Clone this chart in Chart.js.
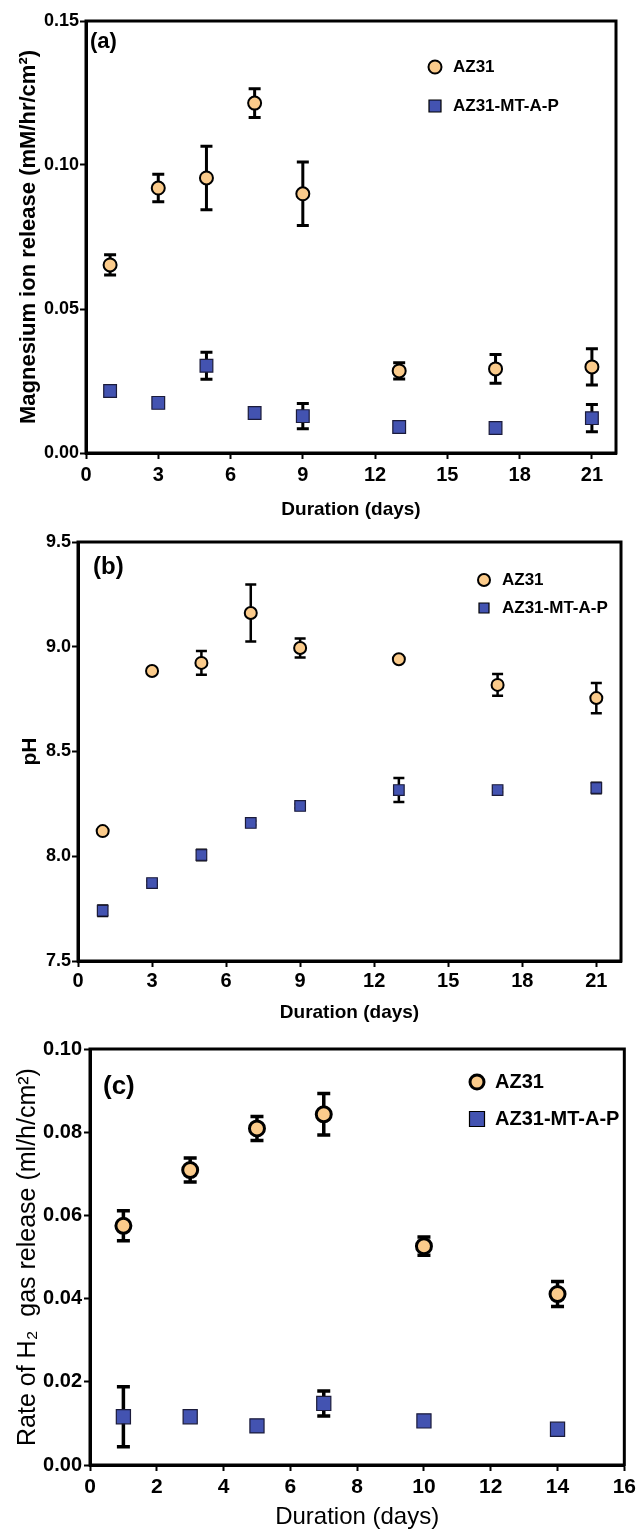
<!DOCTYPE html>
<html>
<head>
<meta charset="utf-8">
<script src="https://cdn.jsdelivr.net/npm/chart.js"></script>
<style>
html, body { margin: 0; padding: 0; background: #fff; }
body { width: 640px; height: 1537px; position: relative; overflow: hidden; }
.panel { position: absolute; left: 0; width: 640px; }
</style>
</head>
<body>
<div class="panel" style="top:0;height:525px"><canvas id="chartA"></canvas></div>
<div class="panel" style="top:525px;height:505px"><canvas id="chartB"></canvas></div>
<div class="panel" style="top:1030px;height:507px"><canvas id="chartC"></canvas></div>
<script>
// data
const daysAB = [1, 3, 5, 7, 9, 13, 17, 21];
const mgAZ31 = [0.0653, 0.0920, 0.0955, 0.1215, 0.0900, 0.0285, 0.0292, 0.0299];
const mgAZ31Err = [0.0035, 0.0048, 0.0110, 0.0050, 0.0110, 0.0028, 0.0050, 0.0063];
const mgCoated = [0.0215, 0.0174, 0.0303, 0.0139, 0.0128, 0.0090, 0.0087, 0.0121];
const mgCoatedErr = [0.0010, 0.0010, 0.0047, 0.0010, 0.0044, 0.0010, 0.0010, 0.0047];

const phAZ31 = [8.12, 8.884, 8.923, 9.161, 8.994, 8.94, 8.818, 8.755];
const phAZ31Err = [0.01, 0.01, 0.057, 0.136, 0.045, 0.01, 0.052, 0.072];
const phCoated = [7.74, 7.872, 8.006, 8.159, 8.24, 8.316, 8.316, 8.326];
const phCoatedErr = [0.025, 0.01, 0.025, 0.01, 0.01, 0.057, 0.01, 0.025];

const daysC = [1, 3, 5, 7, 10, 14];
const h2AZ31 = [0.0575, 0.0709, 0.0809, 0.0843, 0.0526, 0.0411];
const h2AZ31Err = [0.0036, 0.0029, 0.0029, 0.0050, 0.0022, 0.0030];
const h2Coated = [0.0116, 0.0116, 0.0094, 0.0148, 0.0106, 0.0086];
const h2CoatedErr = [0.0072, 0.0008, 0.0008, 0.0030, 0.0008, 0.0008];

const xTicksAB = [0, 3, 6, 9, 12, 15, 18, 21];
const yTicksMg = [0, 0.05, 0.10, 0.15];
const yTicksPh = [7.5, 8.0, 8.5, 9.0, 9.5];
const xTicksC = [0, 2, 4, 6, 8, 10, 12, 14, 16];
const yTicksH2 = [0, 0.02, 0.04, 0.06, 0.08, 0.10];

const seriesNames = ['AZ31', 'AZ31-MT-A-P'];

const peach = '#FBCB8B';
const blue = '#4353B1';
const sans = "'Liberation Sans', Arial, sans-serif";

function drawMarker(ctx, style, x, y, r, bw, fill) {
    ctx.save();
    ctx.fillStyle = fill;
    ctx.strokeStyle = '#000';
    ctx.lineWidth = bw;
    ctx.beginPath();
    if (style === 'circle') {
        ctx.arc(x, y, r, 0, Math.PI * 2);
    } else {
        ctx.rect(x - r, y - r, 2 * r, 2 * r);
    }
    ctx.fill();
    ctx.stroke();
    ctx.restore();
}

function makePanel(id, p) {
    const decor = {
        id: 'decor' + id,
        beforeDatasetsDraw(chart) {
            // error bars
            const ctx = chart.ctx;
            const xs = chart.scales.x, ys = chart.scales.y;
            ctx.save();
            ctx.strokeStyle = '#000';
            ctx.lineWidth = p.errW;
            chart.data.datasets.forEach(ds => {
                ds.data.forEach((pt, i) => {
                    const e = ds.errors[i];
                    const x = xs.getPixelForValue(pt.x);
                    const y1 = ys.getPixelForValue(pt.y + e);
                    const y2 = ys.getPixelForValue(pt.y - e);
                    ctx.beginPath();
                    ctx.moveTo(x, y1); ctx.lineTo(x, y2);
                    ctx.moveTo(x - p.cap, y1); ctx.lineTo(x + p.cap, y1);
                    ctx.moveTo(x - p.cap, y2); ctx.lineTo(x + p.cap, y2);
                    ctx.stroke();
                });
            });
            ctx.restore();
        },
        afterDraw(chart) {
            const ctx = chart.ctx;
            const a = chart.chartArea;
            ctx.save();
            ctx.strokeStyle = '#000';
            ctx.lineWidth = 3;
            ctx.strokeRect(a.left, a.top, a.right - a.left, a.bottom - a.top);
            // panel tag
            ctx.fillStyle = '#000';
            ctx.font = p.tagFont;
            ctx.textAlign = 'left';
            ctx.textBaseline = 'middle';
            ctx.fillText(p.tag, p.tagX, p.tagY);
            // legend
            drawMarker(ctx, 'circle', p.legX, p.legY[0], p.legCircle, p.circleBW, peach);
            drawMarker(ctx, 'rect', p.legX, p.legY[1], p.legSquare, 1.2, blue);
            ctx.fillStyle = '#000';
            ctx.font = p.legFont;
            ctx.fillText(seriesNames[0], p.legTextX, p.legY[0]);
            ctx.fillText(seriesNames[1], p.legTextX, p.legY[1]);
            ctx.restore();
        }
    };

    new Chart(document.getElementById(id), {
        type: 'scatter',
        data: {
            datasets: [
                {
                    label: seriesNames[1],
                    data: p.days.map((d, i) => ({ x: d, y: p.coated[i] })),
                    errors: p.coatedErr,
                    pointStyle: 'rect',
                    pointRadius: p.rectR,
                    pointBorderWidth: 1.2,
                    backgroundColor: blue,
                    borderColor: '#1b1b3a'
                },
                {
                    label: seriesNames[0],
                    data: p.days.map((d, i) => ({ x: d, y: p.az[i] })),
                    errors: p.azErr,
                    pointStyle: 'circle',
                    pointRadius: p.circleR,
                    pointBorderWidth: p.circleBW,
                    backgroundColor: peach,
                    borderColor: '#000'
                }
            ]
        },
        options: {
            responsive: true,
            maintainAspectRatio: false,
            animation: false,
            events: [],
            layout: { padding: { left: 0, top: p.top, right: p.right, bottom: 0 } },
            plugins: { legend: { display: false }, tooltip: { enabled: false } },
            scales: {
                x: {
                    type: 'linear',
                    min: p.xMin, max: p.xMax,
                    afterBuildTicks: s => { s.ticks = p.xTicks.map(v => ({ value: v })); },
                    afterFit: s => { s.height = p.xAxisH; },
                    ticks: { color: '#000', font: { family: sans, weight: 'bold', size: p.xTickSize }, padding: p.xTickPad, maxRotation: 0, callback: v => String(v) },
                    grid: { drawOnChartArea: false, drawTicks: true, tickLength: 6, tickWidth: 2, tickColor: '#000' },
                    border: { display: true, color: '#000', width: 3 },
                    title: { display: true, text: 'Duration (days)', color: '#000', font: p.xTitleFont, padding: { top: 0, bottom: p.xTitlePad } }
                },
                y: {
                    type: 'linear',
                    min: p.yMin, max: p.yMax,
                    afterBuildTicks: s => { s.ticks = p.yTicks.map(v => ({ value: v })); },
                    afterFit: s => { s.width = p.yAxisW; },
                    ticks: { color: '#000', font: { family: sans, weight: 'bold', size: p.yTickSize }, padding: p.yTickPad, callback: v => v.toFixed(p.dec) },
                    grid: { drawOnChartArea: false, drawTicks: true, tickLength: 6, tickWidth: 2, tickColor: '#000' },
                    border: { display: true, color: '#000', width: 3 },
                    title: { display: true, text: p.yTitle, color: '#000', font: p.yTitleFont, padding: { top: p.yTitlePad, bottom: 0 } }
                }
            }
        },
        plugins: [decor]
    });
}

makePanel('chartA', {
    days: daysAB, az: mgAZ31, azErr: mgAZ31Err, coated: mgCoated, coatedErr: mgCoatedErr,
    xMin: 0, xMax: 22, xTicks: xTicksAB, yMin: 0, yMax: 0.15, yTicks: yTicksMg, dec: 2,
    top: 21, right: 24, xAxisH: 72, yAxisW: 86,
    xTickSize: 20, yTickSize: 18, xTickPad: 4, yTickPad: 1,
    xTitleFont: { family: sans, weight: 'bold', size: 19 }, xTitlePad: 4,
    yTitle: 'Magnesium ion release (mM/hr/cm\u00B2)', yTitleFont: { family: sans, weight: 'bold', size: 22 }, yTitlePad: 16,
    circleR: 6.5, circleBW: 2, rectR: 9, errW: 3, cap: 6,
    tag: '(a)', tagX: 90, tagY: 42, tagFont: 'bold 22px ' + sans,
    legX: 435, legY: [67, 106], legTextX: 453, legCircle: 6.5, legSquare: 6, legFont: 'bold 17px ' + sans
});

makePanel('chartB', {
    days: daysAB, az: phAZ31, azErr: phAZ31Err, coated: phCoated, coatedErr: phCoatedErr,
    xMin: 0, xMax: 22, xTicks: xTicksAB, yMin: 7.5, yMax: 9.5, yTicks: yTicksPh, dec: 1,
    top: 17, right: 19, xAxisH: 69, yAxisW: 78,
    xTickSize: 20, yTickSize: 18, xTickPad: 2, yTickPad: 1,
    xTitleFont: { family: sans, weight: 'bold', size: 19 }, xTitlePad: 6,
    yTitle: 'pH', yTitleFont: { family: sans, weight: 'bold', size: 21 }, yTitlePad: 18,
    circleR: 6, circleBW: 2, rectR: 7.5, errW: 2.5, cap: 5.5,
    tag: '(b)', tagX: 93, tagY: 42, tagFont: 'bold 24px ' + sans,
    legX: 484, legY: [55, 83], legTextX: 502, legCircle: 6, legSquare: 5, legFont: 'bold 17px ' + sans
});

makePanel('chartC', {
    days: daysC, az: h2AZ31, azErr: h2AZ31Err, coated: h2Coated, coatedErr: h2CoatedErr,
    xMin: 0, xMax: 16, xTicks: xTicksC, yMin: 0, yMax: 0.10, yTicks: yTicksH2, dec: 2,
    top: 19, right: 13, xAxisH: 72, yAxisW: 90,
    xTickSize: 21, yTickSize: 20, xTickPad: 4, yTickPad: 2,
    xTitleFont: { family: sans, size: 24 }, xTitlePad: 5,
    yTitle: 'Rate of H\u2082  gas release (ml/h/cm\u00B2)', yTitleFont: { family: sans, size: 25 }, yTitlePad: 13,
    circleR: 7.5, circleBW: 3, rectR: 10, errW: 3.5, cap: 6.5,
    tag: '(c)', tagX: 103, tagY: 57, tagFont: 'bold 26px ' + sans,
    legX: 477, legY: [52, 89], legTextX: 495, legCircle: 7, legSquare: 7.5, legFont: 'bold 20px ' + sans
});
</script>
</body>
</html>
